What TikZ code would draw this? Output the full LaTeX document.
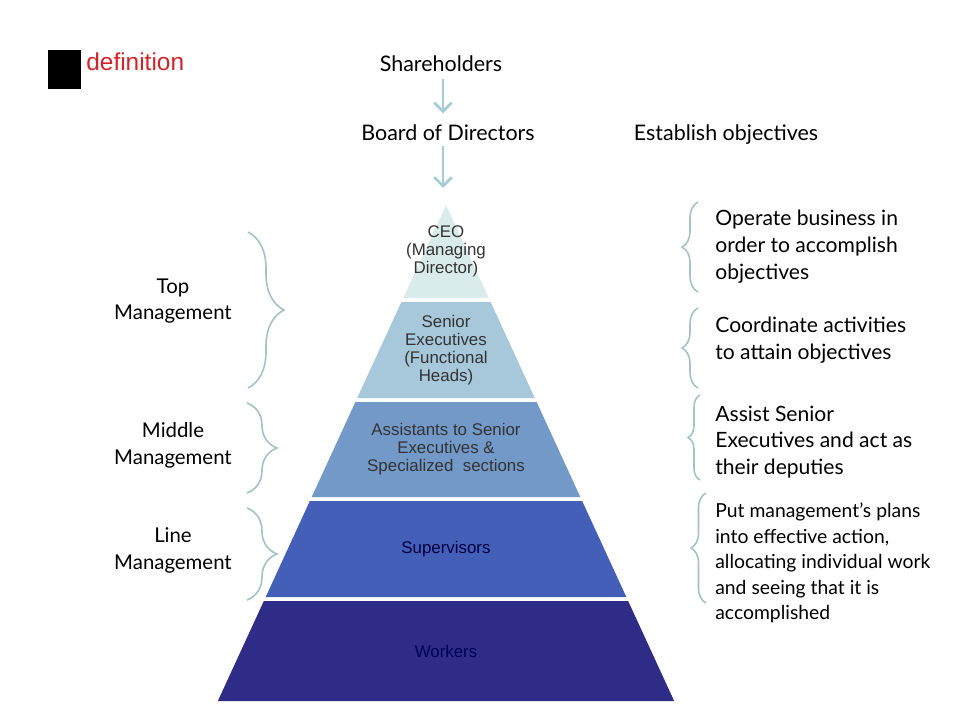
\documentclass[tikz,border=0pt]{standalone}
\usepackage{fontspec}
\setmainfont{Lato}
\newfontfamily\arialfont{Liberation Sans}
\usepackage{tikz}
\usetikzlibrary{arrows.meta, positioning, decorations.pathreplacing}
\definecolor{paleline}{HTML}{A9CDD6}
\definecolor{ceofill}{HTML}{DAEBEC}
\definecolor{seniorfill}{HTML}{A6C8DA}
\definecolor{assistfill}{HTML}{7399C8}
\definecolor{superfill}{HTML}{445FB8}
\definecolor{workerfill}{HTML}{2E2C86}
\definecolor{defred}{HTML}{D2232A}
\tikzset{
	toptext/.style={
		inner sep=3pt,
		font=\fontsize{12.2}{15.3}\selectfont
	},
	sidetext/.style={
		align=center,
		inner sep=0pt,
		font=\fontsize{11.6}{15.3}\selectfont
	},
	duty/.style={
		align=left,
		anchor=west,
		inner sep=0pt,
		font=\fontsize{12}{15.3}\selectfont
	},
	bandtext/.style={
		align=center,
		inner sep=0pt,
		text=black!80,
		font=\arialfont\fontsize{9.6}{10.2}\selectfont
	},
	bigbrace/.style={
		decorate,
		decoration={brace, amplitude=#1},
		draw=paleline!85!gray,
		line width=0.9pt
	},
	arrow/.style={
		draw=paleline,
		line width=1.6pt,
		-{Straight Barb[length=5pt,width=10pt]}
	}
}

\begin{document}
\begin{tikzpicture}[x=0.02cm, y=-0.02cm]
	\useasboundingbox (0,0) rectangle (960,720);
	% heading
	\fill[black] (48,50) rectangle (81,89);
	\node (defn) [anchor=base west, inner sep=0pt, text=defred, font=\arialfont\fontsize{13.9}{15}\selectfont] at (86,70) {definition};
	\node (share) [toptext, anchor=base] at (441,71) {Shareholders};
	\node (board) [toptext, anchor=base] at (448,140) {Board of Directors};
	\node (estab) [toptext, anchor=base] at (726,140) {Establish objectives};
	\coordinate (apex) at (443,188);

	\draw [arrow, shorten <=1pt, shorten >=3pt] (share.south -| apex) -- (board.north -| apex);
	\draw [arrow] (board.south -| apex) -- (apex);

	% pyramid bands
	\foreach \ytop/\ybot/\col in {205/298/ceofill, 302/398/seniorfill, 402/497/assistfill, 501/597/superfill, 601/701/workerfill}
		\fill[\col] ({446-0.46*(\ytop-205)},\ytop) -- ({446+0.46*(\ytop-205)},\ytop)
			-- ({446+0.46*(\ybot-205)},\ybot) -- ({446-0.46*(\ybot-205)},\ybot) -- cycle;

	\node (ceo) [bandtext] at (446,251) {CEO\\(Managing\\Director)};
	\node (senior) [bandtext] at (446,350) {Senior\\Executives\\(Functional\\Heads)};
	\node (assist) [bandtext] at (446,449) {Assistants to Senior\\Executives \&\\Specialized~ sections};
	\node (super) [bandtext, text=black!75!blue] at (446,549) {Supervisors};
	\node (workers) [bandtext, text=black!65!blue] at (446,651) {Workers};

	% left side
	\node (topm) [sidetext] at (173,301) {Top\\Management};
	\node (midm) [sidetext] at (173,445) {Middle\\Management};
	\node (linem) [sidetext] at (173,550) {Line\\Management};
	\draw [bigbrace=0.72cm] (248,232) -- (248,388);
	\draw [bigbrace=0.6cm] (247,403) -- (247,493);
	\draw [bigbrace=0.6cm] (247,508) -- (247,600);

	% right side
	\draw [bigbrace=0.32cm] (698,292) -- (698,202);
	\draw [bigbrace=0.32cm] (698,388) -- (698,308);
	\draw [bigbrace=0.24cm] (700,480) -- (700,395);
	\draw [bigbrace=0.3cm] (706,603) -- (706,493);
	\node (duty1) [duty] at (715,247) {Operate business in\\order to accomplish\\objectives};
	\node (duty2) [duty] at (715,340) {Coordinate activities\\to attain objectives};
	\node (duty3) [duty] at (715,442) {Assist Senior\\Executives and act as\\their deputies};
	\node (duty4) [duty, font=\fontsize{11}{14.5}\selectfont] at (715,563) {Put management’s plans\\into effective action,\\allocating individual work\\and seeing that it is\\accomplished};
\end{tikzpicture}
\end{document}
